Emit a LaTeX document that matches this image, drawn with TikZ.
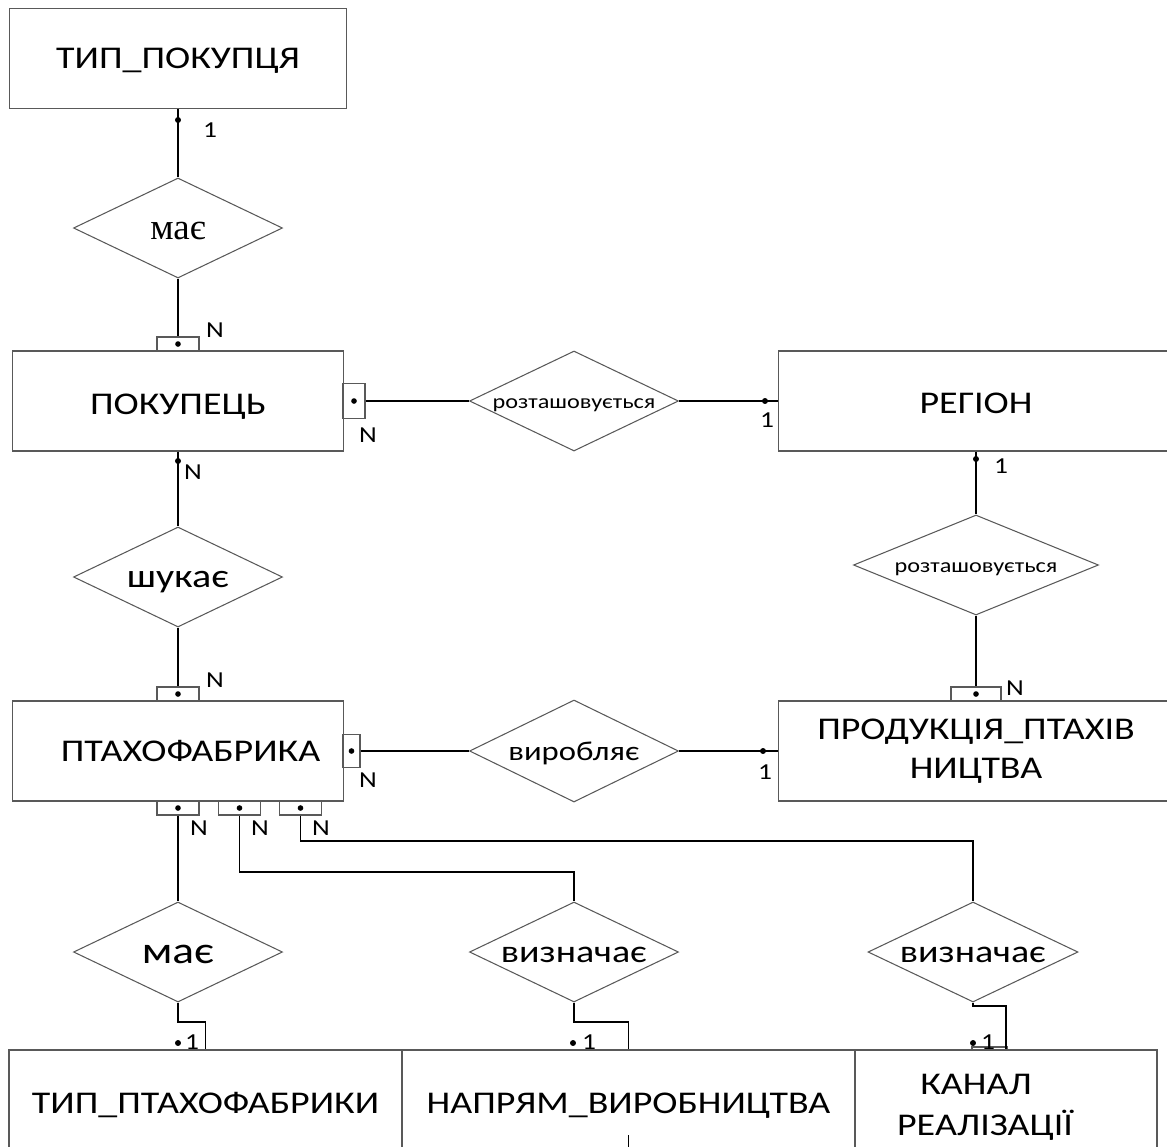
\documentclass[tikz,border=0pt]{standalone}
\usepackage{fontspec}
\setmainfont{Carlito}[FakeStretch=1.2]
\newfontfamily\serifcyr{Liberation Serif}
\usetikzlibrary{shapes.geometric}

\begin{document}
\begin{tikzpicture}
  [
    line width = 0.6pt,
    entity/.style = {draw = black!65, rectangle, minimum height = 2cm, align = center,
      font = \fontsize{18}{22}\selectfont},
    oneline/.style = {text height = 11.4pt, text depth = 0pt},
    relation/.style = {draw = black!65, diamond, inner sep = 0pt, aspect = 2.1,
      minimum width = 4.18cm, minimum height = 2cm},
    port/.style = {draw = black!65, rectangle, inner sep = 0pt,
      minimum width = 0.84cm, minimum height = 0.28cm},
    card/.style = {inner sep = 0pt, font = \fontsize{13}{15}\selectfont},
    pin/.style = {circle, fill, inner sep = 0pt, minimum size = 3.4pt},
    big/.style = {font = \fontsize{18}{22}\selectfont, text height = 11.8pt, text depth = 0pt},
    small/.style = {font = \fontsize{11.5}{14}\selectfont, text height = 8.8pt, text depth = 0pt}
  ]
  \useasboundingbox (0,0) rectangle (23.34,-22.94);

  % entities
  \node [entity, oneline, minimum width = 6.74cm] (tipPok) at (3.56,-1.17) {ТИП\_ПОКУПЦЯ};
  \node [entity, oneline, text height = 14.8pt, minimum width = 6.62cm] (pokup) at (3.56,-8.02) {ПОКУПЕЦЬ};
  \node [entity, oneline, text height = 14pt, minimum width = 7.9cm] (region) at (19.52,-8.02) {РЕГІОН};
  \node [entity, oneline, minimum width = 6.62cm] (ptaxo)  at (3.56,-15.02) {\hspace*{0.5cm}ПТАХОФАБРИКА};
  \node [entity, minimum width = 7.9cm]  (prod)   at (19.52,-15.02) {ПРОДУКЦІЯ\_ПТАХІВ\\НИЦТВА};
  \node [entity, oneline, minimum width = 7.86cm, minimum height = 2.12cm] (tipPt) at (4.11,-22.06) {ТИП\_ПТАХОФАБРИКИ};
  \node [entity, oneline, minimum width = 9.06cm, minimum height = 2.12cm] (napr)  at (12.57,-22.06) {НАПРЯМ\_ВИРОБНИЦТВА};
  \node [entity, minimum width = 6.04cm, minimum height = 2.12cm] (kanal) at (20.12,-22.06) {};
  \node [font = \fontsize{18}{23.5}\selectfont, align = center] (kanalTxt) at (19.7,-22.14)
    {КАНАЛ\hspace*{0.36cm}\\РЕАЛІЗАЦІЇ};

  % relations
  \node [relation, text height = 13pt, text depth = 0pt] (maye1) at (3.56,-4.56) {\fontsize{21}{24}\serifcyr має};
  \node [relation, small] (roz1) at (11.48,-8.02) {розташовується};
  \node [relation, big, font = \fontsize{19}{22}\selectfont] (shuk) at (3.56,-11.54) {шукає};
  \node [relation, small, minimum width = 4.9cm] (roz2) at (19.52,-11.3) {розташовується};
  \node [relation, font = \fontsize{15.5}{18}\selectfont, text height = 10.6pt, text depth = 0pt,
    minimum height = 2.04cm] (vyrob) at (11.48,-15.02) {виробляє};
  \node [relation, big, font = \fontsize{21.5}{24}\selectfont, text height = 13.4pt] (maye2) at (3.56,-19.04) {має};
  \node [relation, big] (vyzn1) at (11.48,-19.04) {визначає};
  \node [relation, big, minimum width = 4.2cm] (vyzn2) at (19.46,-19.04) {визначає};

  % ports
  \node [port] (pkTop) at (3.56,-6.88) {};
  \node [port, minimum width = 0.44cm, minimum height = 0.7cm] (pkRight) at (7.08,-8.02) {};
  \node [port, minimum width = 1cm] (prodTop) at (19.52,-13.88) {};
  \node [port] (ptTop) at (3.56,-13.88) {};
  \node [port, minimum width = 0.34cm, minimum height = 0.66cm] (ptRight) at (7.03,-15.02) {};
  \node [port] (ptB1) at (3.56,-16.16) {};
  \node [port] (ptB2) at (4.79,-16.16) {};
  \node [port] (ptB3) at (6.01,-16.16) {};
  \node [port, minimum width = 0.7cm, minimum height = 0.06cm] (kanalTop) at (19.79,-20.97) {};
  \foreach \p in {pkTop, pkRight, prodTop, ptTop, ptRight, ptB1, ptB2, ptB3}
    \fill (\p) circle (1.6pt);

  % connectors
  \draw (tipPok) -- (maye1);
  \draw (maye1) -- (pkTop);
  \draw (pkRight) -- (roz1);
  \draw (roz1) -- (region);
  \draw (pokup) -- (shuk);
  \draw (shuk) -- (ptTop);
  \draw (region) -- (roz2);
  \draw (roz2) -- (prodTop);
  \draw (ptRight) -- (vyrob);
  \draw (vyrob) -- (prod);
  \draw (ptB1) -- (maye2);
  \draw (ptB2) -- ++(0,-1.28) -| (vyzn1);
  \draw (ptB3) -- ++(0,-0.66) -| (vyzn2);
  \draw (maye2) -- ++(0,-1.4) -| (tipPt);
  \draw (vyzn1) -- ++(0,-1.4) -| (napr);
  \draw (vyzn2) -- ++(0,-1.08) -| (kanal);
  \coordinate (naprTail) at (12.57,-22.7);
  \draw (naprTail) -- (naprTail |- napr.south);

  % cardinalities
  \begin{scope}[every node/.style = card]
    \node [pin] at (3.56,-2.4) {};      \node at (4.2,-2.6) {1};
    \node at (4.3,-6.6) {N};
    \node at (7.36,-8.7) {N};
    \node [pin] at (15.3,-8.02) {};     \node at (15.34,-8.4) {1};
    \node [pin] at (3.56,-9.22) {};     \node at (3.86,-9.44) {N};
    \node [pin] at (19.52,-9.18) {};    \node at (20.02,-9.32) {1};
    \node at (20.3,-13.76) {N};
    \node at (4.3,-13.6) {N};
    \node at (7.36,-15.6) {N};
    \node [pin] at (15.26,-15.02) {};   \node at (15.3,-15.44) {1};
    \node at (3.98,-16.56) {N};
    \node at (5.2,-16.56) {N};
    \node at (6.42,-16.56) {N};
    \node [pin] at (3.56,-20.86) {};    \node at (3.84,-20.84) {1};
    \node [pin] at (11.46,-20.86) {};   \node at (11.78,-20.84) {1};
    \node [pin] at (19.46,-20.86) {};   \node at (19.76,-20.84) {1};
  \end{scope}
\end{tikzpicture}
\end{document}
